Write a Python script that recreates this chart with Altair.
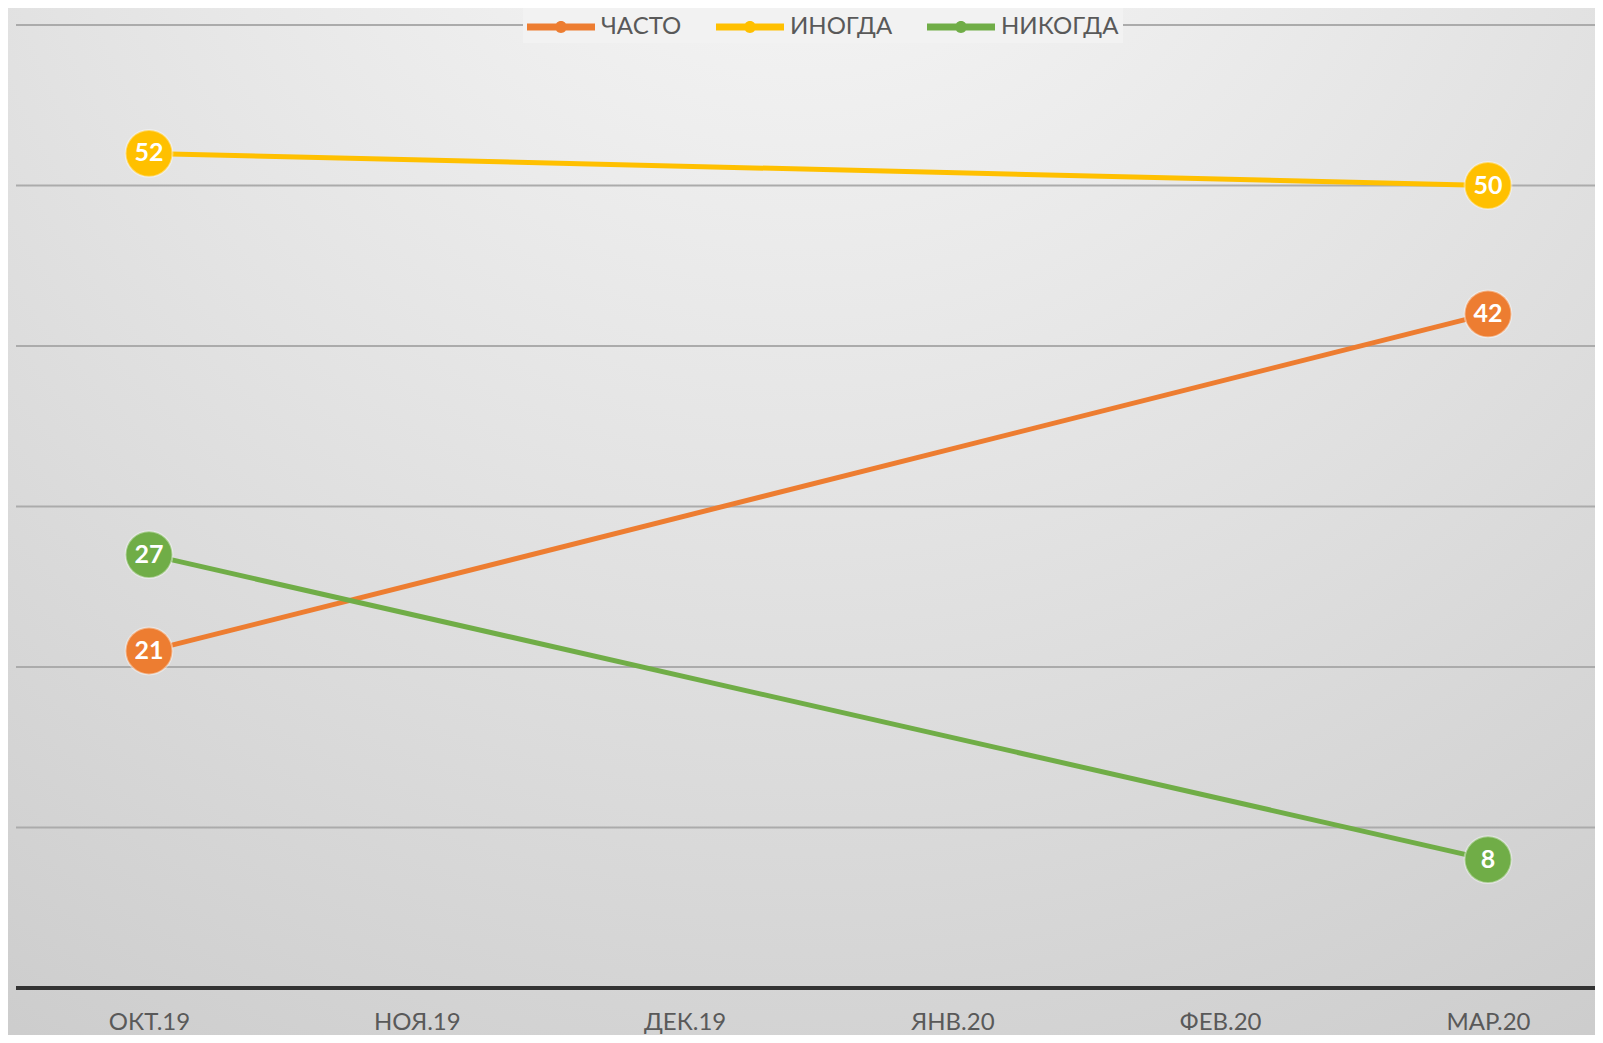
import altair as alt
import pandas as pd

months = ["ОКТ.19", "НОЯ.19", "ДЕК.19", "ЯНВ.20", "ФЕВ.20", "МАР.20"]
series_names = ["ЧАСТО", "ИНОГДА", "НИКОГДА"]
chasto = [21, None, None, None, None, 42]
inogda = [52, None, None, None, None, 50]
nikogda = [27, None, None, None, None, 8]
series_colors = ["#ED7D31", "#FFC000", "#70AD47"]
grid_values = [10, 20, 30, 40, 50, 60]
baseline_value = [0]

rows = []
for name, vals in zip(series_names, [chasto, inogda, nikogda]):
    for m, v in zip(months, vals):
        if v is not None:
            rows.append({"month": m, "series": name, "value": v})
df = pd.DataFrame(rows)

W, H = 1579, 963
PAD = {"left": 8, "top": 17, "right": 0, "bottom": 47}
FONT = "Lato, Roboto, sans-serif"

xscale = alt.Scale(type="point", domain=months, range=[133, 1472], padding=0)
yscale = alt.Scale(domain=[0, 60])

bg = alt.Chart(pd.DataFrame({"a": [0]})).mark_rect(
    color={
        "gradient": "radial",
        "x1": 0.5, "y1": 0.0, "r1": 0.0,
        "x2": 0.5, "y2": 0.0, "r2": 1.0,
        "stops": [
            {"offset": 0.0, "color": "#fafafa"},
            {"offset": 0.5, "color": "#e3e3e3"},
            {"offset": 1.0, "color": "#cbcbcb"},
        ],
    }
).encode(
    x=alt.value(-PAD["left"]), x2=alt.value(W),
    y=alt.value(-PAD["top"]), y2=alt.value(H + PAD["bottom"]),
)

grid = alt.Chart(pd.DataFrame({"g": grid_values})).mark_rule(
    color="#ababab", strokeWidth=2
).encode(
    y=alt.Y("g:Q", scale=yscale, axis=None),
    x=alt.value(0), x2=alt.value(W),
)

base_rule = alt.Chart(pd.DataFrame({"g": baseline_value})).mark_rule(
    color="#333333", strokeWidth=4
).encode(
    y=alt.Y("g:Q", scale=yscale, axis=None),
    x=alt.value(0), x2=alt.value(W),
)

legend_path = ("M-1,-0.103L1,-0.103L1,0.103L-1,0.103Z "
               "M-0.176,0A0.176,0.176 0 1,1 0.176,0A0.176,0.176 0 1,1 -0.176,0Z")

color = alt.Color(
    "series:N",
    scale=alt.Scale(domain=series_names, range=series_colors),
    legend=alt.Legend(
        orient="none", legendX=507, legendY=-36, direction="horizontal",
        title=None, symbolType=legend_path, symbolSize=4624,
        symbolStrokeWidth=0, symbolOpacity=1,
        labelFont=FONT, labelFontSize=24, labelColor="#595959",
        columnPadding=34, labelOffset=6, fillColor="#f2f2f2", padding=4,
    ),
)

xenc = alt.X(
    "month:O", sort=months, scale=xscale,
    axis=alt.Axis(
        title=None, labelAngle=0, ticks=False, grid=False, domain=False,
        zindex=1,
        labelFont=FONT, labelFontSize=24, labelColor="#595959",
        labelPadding=22,
    ),
)
yenc = alt.Y("value:Q", scale=yscale, axis=None)

lines = alt.Chart(df).mark_line(strokeWidth=5).encode(x=xenc, y=yenc, color=color)
points = alt.Chart(df).mark_circle(
    size=2200, opacity=1, stroke="white", strokeWidth=2, strokeOpacity=0.4
).encode(x=xenc, y=yenc, color=color)
labels = alt.Chart(df).mark_text(
    color="white", fontWeight="bold", fontSize=25, font=FONT,
    baseline="middle", align="center"
).encode(x=xenc, y=yenc, text="value:Q")

chart = alt.layer(bg, grid, base_rule, lines, points, labels).properties(
    width=W, height=H,
    autosize=alt.AutoSizeParams(type="none"),
    padding=PAD,
    background="#d8d8d8",
).configure_view(stroke=None)

chart.save("out.html", embed_options={"renderer": "svg", "actions": False})
